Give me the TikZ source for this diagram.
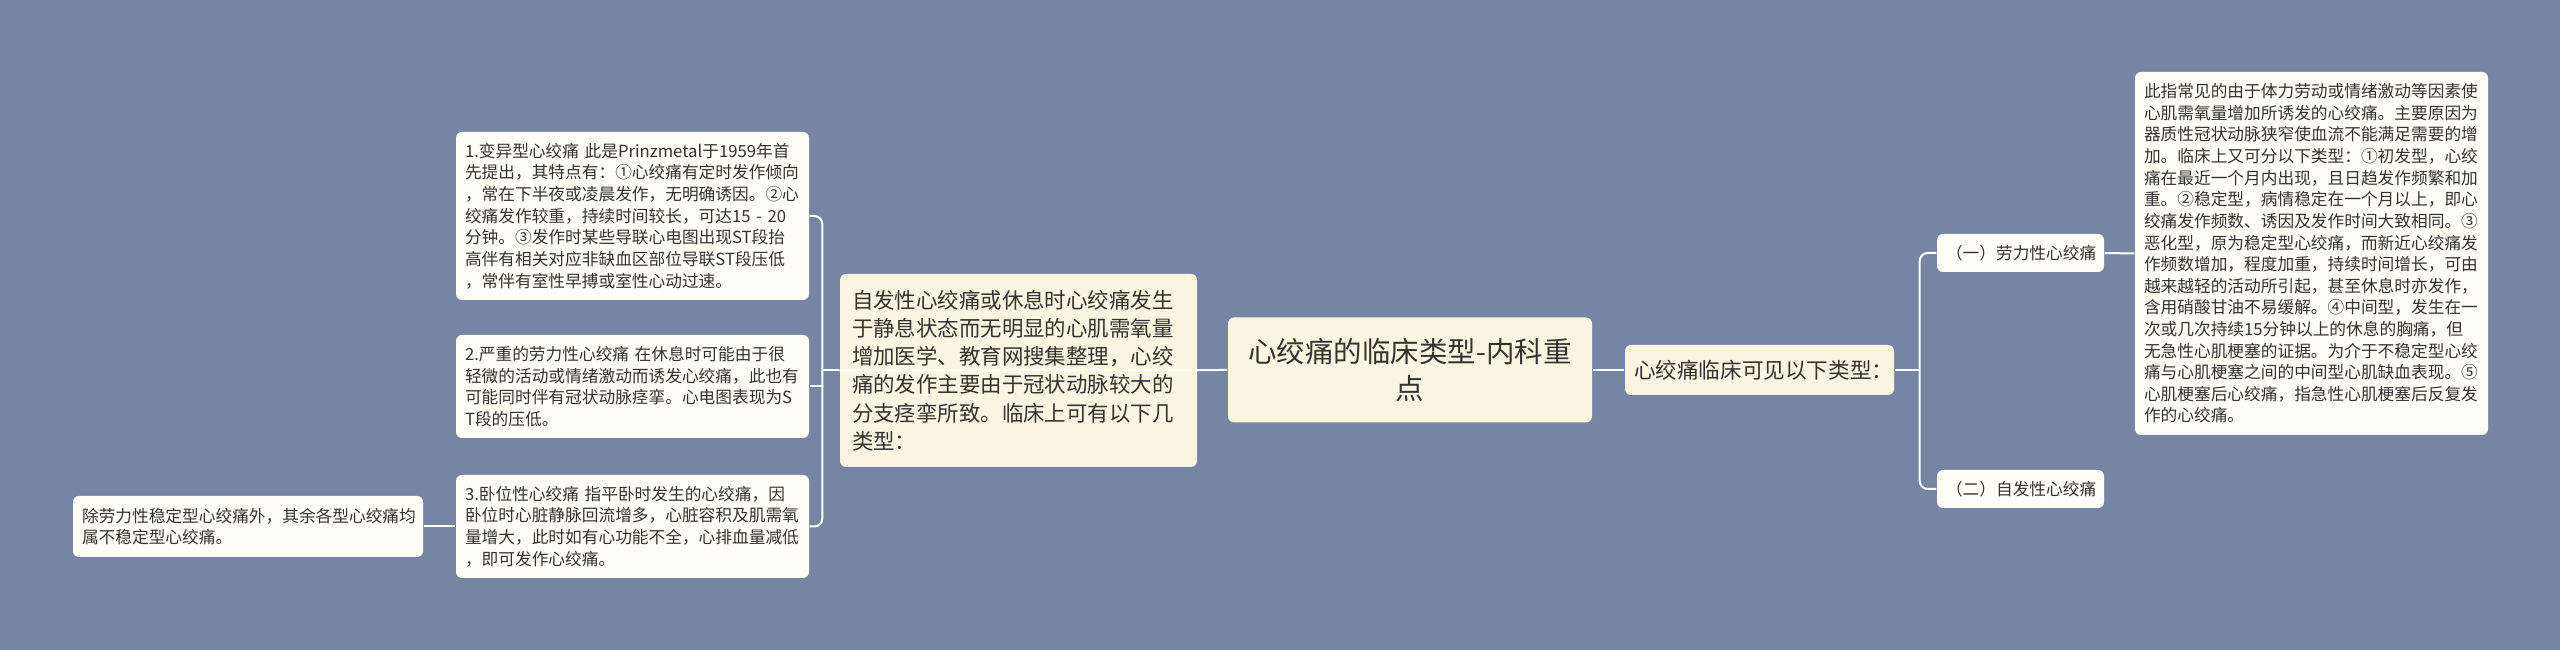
\documentclass[tikz,border=0pt]{standalone}
\usepackage{fontspec}
\setmainfont{Noto Sans CJK SC}
\definecolor{bgcol}{RGB}{120,132,163}
\definecolor{midcol}{RGB}{250,245,224}
\definecolor{leafcol}{RGB}{255,254,246}
\definecolor{txtcol}{RGB}{51,51,51}

\begin{document}
\begin{tikzpicture}[x=0.1mm,y=-0.1mm,
  box/.style={rounded corners=0.6mm, text=txtcol, inner ysep=0pt, align=left},
  leaf/.style={box, fill=leafcol, inner xsep=0.9mm, text width=33.5mm,
    font=\fontsize{4.75pt}{6.15pt}\selectfont},
  midbox/.style={box, fill=midcol, inner xsep=1.2mm,
    font=\fontsize{6.1pt}{8.05pt}\selectfont},
  rootbox/.style={box, fill=midcol, inner xsep=1mm, text width=34.4mm, align=center,
    font=\fontsize{8.1pt}{10.5pt}\selectfont},
  link/.style={draw=white, line width=0.2mm, rounded corners=0.8mm}]

\fill [bgcol] (0,0) rectangle (2560,650) ;
\useasboundingbox (0,0) rectangle (2560,650) ;

% centre
\node [rootbox, minimum height=10.5mm] (root) at (1410,370) {心绞痛的临床类型-内科重\\点};

% left side
\node [midbox, text width=33.3mm, minimum height=19.3mm] (cause) at (1018.5,370.5)
  {自发性心绞痛或休息时心绞痛发生\\
   于静息状态而无明显的心肌需氧量\\
   增加医学、教育网搜集整理，心绞\\
   痛的发作主要由于冠状动脉较大的\\
   分支痉挛所致。临床上可有以下几\\
   类型：};
\node [leaf, minimum height=16.8mm] (variant) at (632.5,216)
  {1.变异型心绞痛 此是Prinzmetal于1959年首\\
   先提出，其特点有：①心绞痛有定时发作倾向\\
   ，常在下半夜或凌晨发作，无明确诱因。②心\\
   绞痛发作较重，持续时间较长，可达15 - 20\\
   分钟。③发作时某些导联心电图出现ST段抬\\
   高伴有相关对应非缺血区部位导联ST段压低\\
   ，常伴有室性早搏或室性心动过速。};
\node [leaf, minimum height=10.3mm] (severe) at (632.5,386.5)
  {2.严重的劳力性心绞痛 在休息时可能由于很\\
   轻微的活动或情绪激动而诱发心绞痛，此也有\\
   可能同时伴有冠状动脉痉挛。心电图表现为S\\
   T段的压低。};
\node [leaf, minimum height=10.3mm] (supine) at (632.5,526.5)
  {3.卧位性心绞痛 指平卧时发生的心绞痛，因\\
   卧位时心脏静脉回流增多，心脏容积及肌需氧\\
   量增大，此时如有心功能不全，心排血量减低\\
   ，即可发作心绞痛。};
\node [leaf, text width=33.2mm, minimum height=6.1mm] (unstable) at (248,526.5)
  {除劳力性稳定型心绞痛外，其余各型心绞痛均\\
   属不稳定型心绞痛。};

% right side
\node [midbox, inner xsep=0.9mm, text width=25.1mm, minimum height=5mm,
  font=\fontsize{6.15pt}{8pt}\selectfont] (types) at (1759.5,370) {心绞痛临床可见以下类型：};
\node [leaf, text width=14.9mm, minimum height=3.8mm] (labor) at (2020.5,253) {（一）劳力性心绞痛};
\node [leaf, text width=14.9mm, minimum height=3.8mm] (spont) at (2020.5,489) {（二）自发性心绞痛};
\node [leaf, minimum height=36.3mm] (labordesc) at (2311.5,253.5)
  {此指常见的由于体力劳动或情绪激动等因素使\\
   心肌需氧量增加所诱发的心绞痛。主要原因为\\
   器质性冠状动脉狭窄使血流不能满足需要的增\\
   加。临床上又可分以下类型：①初发型，心绞\\
   痛在最近一个月内出现，且日趋发作频繁和加\\
   重。②稳定型，病情稳定在一个月以上，即心\\
   绞痛发作频数、诱因及发作时间大致相同。③\\
   恶化型，原为稳定型心绞痛，而新近心绞痛发\\
   作频数增加，程度加重，持续时间增长，可由\\
   越来越轻的活动所引起，甚至休息时亦发作，\\
   含用硝酸甘油不易缓解。④中间型，发生在一\\
   次或几次持续15分钟以上的休息的胸痛，但\\
   无急性心肌梗塞的证据。为介于不稳定型心绞\\
   痛与心肌梗塞之间的中间型心肌缺血表现。⑤\\
   心肌梗塞后心绞痛，指急性心肌梗塞后反复发\\
   作的心绞痛。};

% connectors
\coordinate (lj) at ([xshift=-1.7mm]cause.west) ;
\coordinate (rj) at ([xshift=2.5mm]types.east) ;
\draw [link] (root.west) -- (cause.west) ;
\draw [link] (root.east) -- (types.east -| types.west) ;
\draw [link] (cause.west) -- (lj) ;
\draw [link] (variant.east) -| (lj) |- (supine.east) ;
\draw [link] (severe.east) -- (severe.east -| lj) ;
\draw [link] (supine.west) -- (unstable.east) ;
\draw [link] (types.east) -- (rj) ;
\draw [link] (labor.west) -| (rj) |- (spont.west) ;
\draw [link] (labor.east) -- (labordesc.west) ;
\end{tikzpicture}
\end{document}
